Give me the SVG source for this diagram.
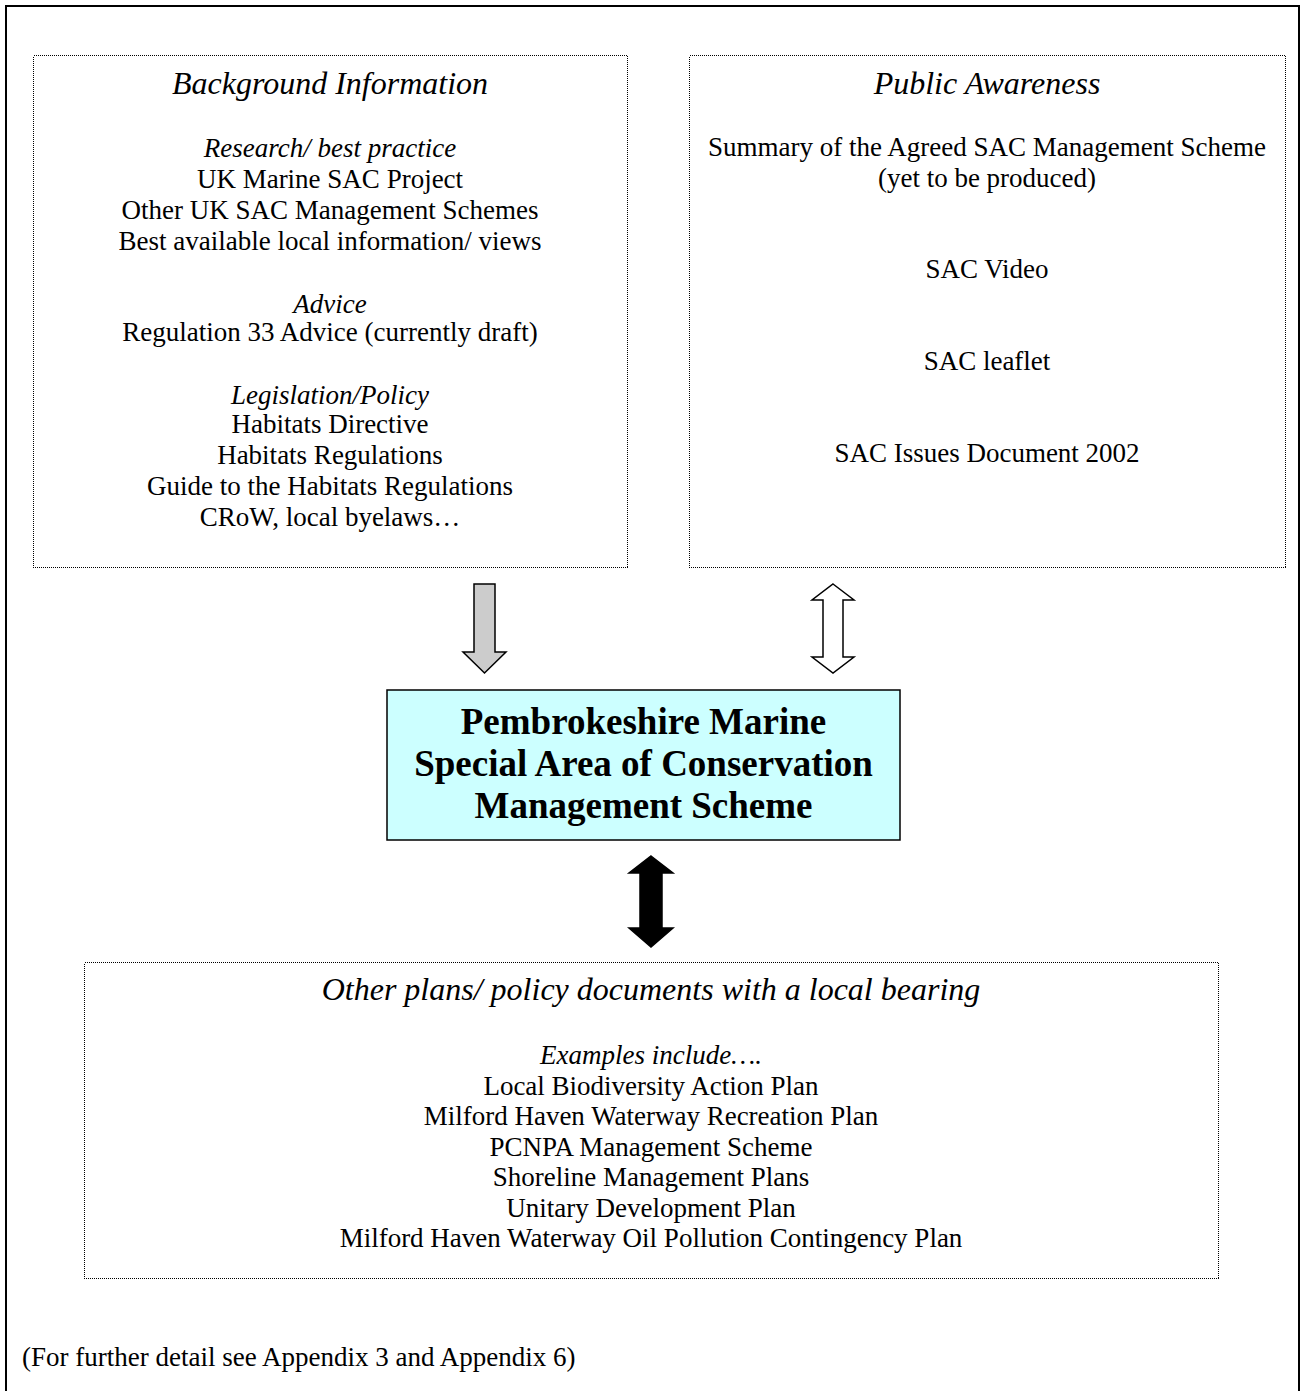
<svg xmlns="http://www.w3.org/2000/svg" width="1305" height="1391" viewBox="0 0 1305 1391">
<style>
text{font-family:"Liberation Serif","Times New Roman",serif;fill:#000;text-anchor:middle}
.t{font-size:32px;font-style:italic}
.s{font-size:27px;font-style:italic}
.b{font-size:27px}
.c{font-size:37px;font-weight:bold}
.dot{fill:#fff;stroke:#000;stroke-width:1;stroke-dasharray:1 1;shape-rendering:crispEdges}
.arr{stroke:#000;stroke-width:1.5;stroke-linejoin:miter}
</style>
<rect x="0" y="0" width="1305" height="1391" fill="#fff"/>
<rect id="frame" x="6" y="6" width="1293" height="1400" fill="none" stroke="#000" stroke-width="2"/>

<g id="background">
<rect class="dot" x="33.5" y="55.5" width="594" height="512"/>
<text class="t" x="330" y="94">Background Information</text>
<text class="s" x="330" y="157">Research/ best practice</text>
<text class="b" x="330" y="188">UK Marine SAC Project</text>
<text class="b" x="330" y="219">Other UK SAC Management Schemes</text>
<text class="b" x="330" y="250">Best available local information/ views</text>
<text class="s" x="330" y="313">Advice</text>
<text class="b" x="330" y="341">Regulation 33 Advice (currently draft)</text>
<text class="s" x="330" y="404">Legislation/Policy</text>
<text class="b" x="330" y="433">Habitats Directive</text>
<text class="b" x="330" y="464">Habitats Regulations</text>
<text class="b" x="330" y="495">Guide to the Habitats Regulations</text>
<text class="b" x="330" y="526">CRoW, local byelaws…</text>
</g>

<g id="public">
<rect class="dot" x="689.5" y="55.5" width="596" height="512"/>
<text class="t" x="987" y="94">Public Awareness</text>
<text class="b" x="987" y="156">Summary of the Agreed SAC Management Scheme</text>
<text class="b" x="987" y="187">(yet to be produced)</text>
<text class="b" x="987" y="278">SAC Video</text>
<text class="b" x="987" y="370">SAC leaflet</text>
<text class="b" x="987" y="462">SAC Issues Document 2002</text>
</g>

<g id="scheme">
<rect x="387" y="690" width="513" height="150" fill="#CCFFFF" stroke="#000" stroke-width="1.5"/>
<text class="c" x="643.5" y="734">Pembrokeshire Marine</text>
<text class="c" x="643.5" y="776">Special Area of Conservation</text>
<text class="c" x="643.5" y="818">Management Scheme</text>
</g>

<g id="other">
<rect class="dot" x="84.5" y="962.5" width="1134" height="316"/>
<text class="t" x="651" y="1000">Other plans/ policy documents with a local bearing</text>
<text class="s" x="651" y="1064">Examples include….</text>
<text class="b" x="651" y="1094.5">Local Biodiversity Action Plan</text>
<text class="b" x="651" y="1125">Milford Haven Waterway Recreation Plan</text>
<text class="b" x="651" y="1155.5">PCNPA Management Scheme</text>
<text class="b" x="651" y="1186">Shoreline Management Plans</text>
<text class="b" x="651" y="1216.5">Unitary Development Plan</text>
<text class="b" x="651" y="1247">Milford Haven Waterway Oil Pollution Contingency Plan</text>
</g>

<g id="connectors">
<polygon class="arr" fill="#CCCCCC" points="474,584 495,584 495,652 506,652 484.5,673 463,652 474,652"/>
<polygon class="arr" fill="#fff" points="833,584 854,600 843,600 843,657 854,657 833,673 812,657 823,657 823,600 812,600"/>
<polygon class="arr" fill="#000" points="651,856 673,873 662,873 662,928 673,928 651,947 629,928 640,928 640,873 629,873"/>
</g>

<g id="footnote">
<text class="b" x="22" y="1366" style="text-anchor:start">(For further detail see Appendix 3 and Appendix 6)</text>
</g>
</svg>
